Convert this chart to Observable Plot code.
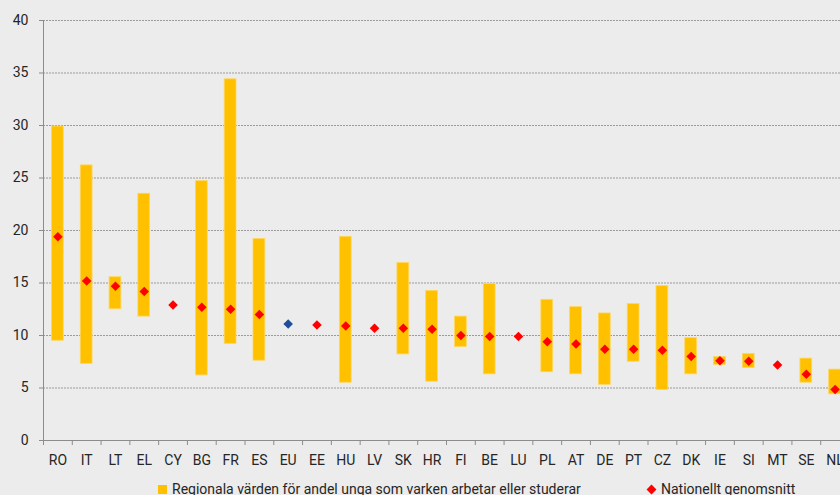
<!DOCTYPE html>
<html>
<head>
<meta charset="utf-8">
<script src="https://cdn.jsdelivr.net/npm/d3@7"></script>
<script src="https://cdn.jsdelivr.net/npm/@observablehq/plot@0.6"></script>
<style>
  html, body { margin: 0; padding: 0; background: #ececec; overflow: hidden; }
  body { width: 840px; height: 495px; position: relative; font-family: Roboto, "Noto Sans", sans-serif; color: #262626; }
  #legend { position: relative; height: 17px; font-size: 14px; }
  .item { position: absolute; top: 2px; white-space: nowrap; line-height: 18px; }
  .sq { display: inline-block; width: 9px; height: 9px; background: #FFC000; margin-right: 5px; vertical-align: 0px; }
  .dia { display: inline-block; width: 7px; height: 7px; background: #FF0000; transform: rotate(45deg); margin-right: 6px; margin-left: 2px; vertical-align: 1px; }
</style>
</head>
<body>
<div id="chart"></div>
<div id="legend">
  <span class="item" style="left:158px"><span class="sq"></span>Regionala värden för andel unga som varken arbetar eller studerar</span>
  <span class="item" style="left:646px"><span class="dia"></span>Nationellt genomsnitt</span>
</div>
<script>
const countries = ["RO","IT","LT","EL","CY","BG","FR","ES","EU","EE","HU","LV","SK","HR","FI","BE","LU","PL","AT","DE","PT","CZ","DK","IE","SI","MT","SE","NL"];
const regionalLow  = [9.5, 7.3, 12.5, 11.8, null, 6.2, 9.2, 7.6, null, null, 5.5, null, 8.2, 5.6, 8.9, 6.3, null, 6.5, 6.3, 5.3, 7.5, 4.8, 6.3, 7.2, 6.9, null, 5.5, 4.4];
const regionalHigh = [29.9, 26.2, 15.55, 23.5, null, 24.7, 34.4, 19.2, null, null, 19.4, null, 16.9, 14.25, 11.8, 14.9, null, 13.4, 12.7, 12.1, 13.0, 14.7, 9.75, 7.95, 8.25, null, 7.8, 6.75];
const nationalAvg  = [19.4, 15.2, 14.7, 14.2, 12.9, 12.7, 12.5, 12.0, 11.1, 11.0, 10.9, 10.7, 10.7, 10.6, 10.0, 9.9, 9.9, 9.4, 9.2, 8.7, 8.7, 8.6, 8.0, 7.6, 7.55, 7.2, 6.3, 4.85];
const yTicks = [0, 5, 10, 15, 20, 25, 30, 35, 40];
const highlight = "EU";

const barColor = "#FFC000";
const dotColor = "#FF0000";
const euColor = "#1F4E9A";

const rows = countries.map((c, i) => ({country: c, low: regionalLow[i], high: regionalHigh[i], nat: nationalAvg[i]}));

const x0 = 43, x1 = 849;
const bw = (x1 - x0) / countries.length;

const chart = Plot.plot({
  width: 840,
  height: 478,
  marginLeft: 43,
  marginRight: 0,
  marginTop: 20,
  marginBottom: 38,
  style: {background: "#ececec", fontFamily: "Roboto, Noto Sans, sans-serif", fontSize: "14px", color: "#262626", overflow: "hidden"},
  x: {domain: countries, range: [x0, x1], padding: 0, round: false, label: null},
  y: {domain: [0, 40], label: null},
  color: {type: "identity"},
  marks: [
    Plot.ruleY(yTicks.filter(d => d > 0), {stroke: "#9a9a9a", strokeDasharray: "2,1", strokeWidth: 1}),
    Plot.rectY(rows.filter(d => d.low != null), {x: "country", y1: "low", y2: "high", fill: barColor, stroke: "#FFD65C", strokeWidth: 0.8, insetLeft: 8.5, insetRight: 8.5}),
    Plot.dot(rows, {x: "country", y: "nat", symbol: "diamond2", r: 4.3, fill: d => d.country === highlight ? euColor : dotColor, stroke: "none"}),
    Plot.ruleY([0], {stroke: "#8c8c8c"}),
    Plot.frame({anchor: "left", stroke: "#8c8c8c"}),
    Plot.axisY({ticks: yTicks, tickSize: 4, tickPadding: 11, stroke: "#8c8c8c", fill: "#262626", fontSize: 14}),
    Plot.axisX({tickSize: 5, tickFormat: () => "", dx: -bw / 2, stroke: "#8c8c8c"}),
    Plot.axisX({tickSize: 0, tickPadding: 15, fill: "#262626", fontSize: 14})
  ]
});
document.getElementById("chart").appendChild(chart);
</script>
</body>
</html>
